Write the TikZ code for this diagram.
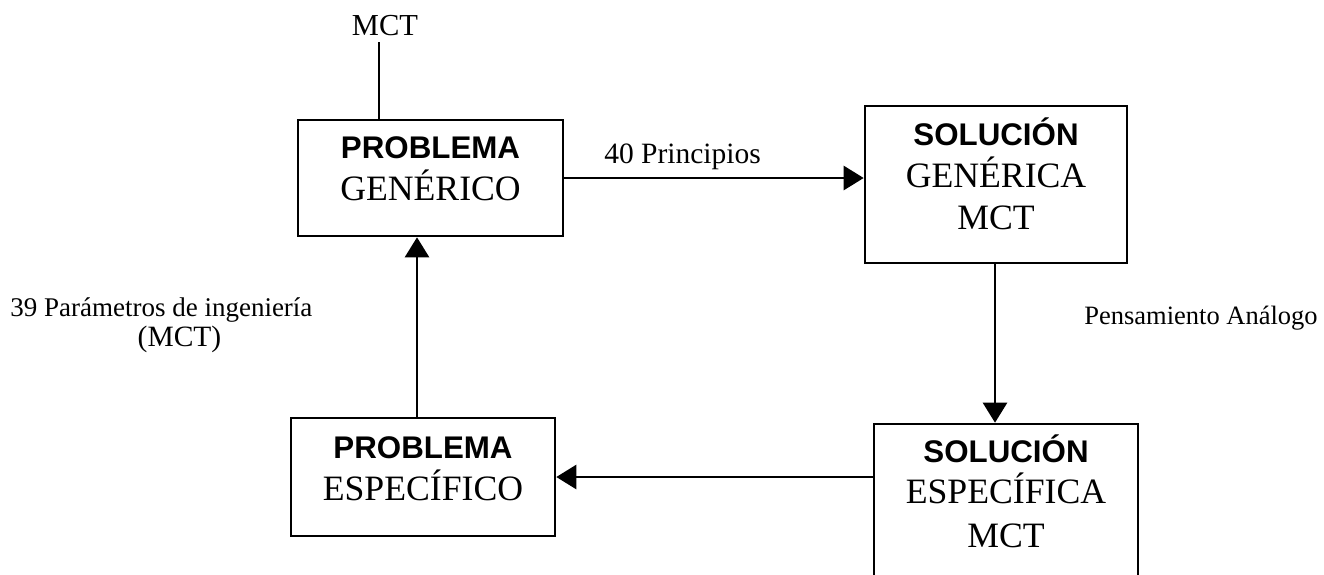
\documentclass[tikz,border=0pt]{standalone}
\usepackage{fontspec}
\setmainfont{Liberation Serif}
\setsansfont{Liberation Sans}
\usetikzlibrary{arrows.meta}
\begin{document}
\begin{tikzpicture}[x=1pt,y=-1pt,
  line width=2.6pt,
  box/.style={draw, rectangle, inner sep=0pt},
  txt/.style={anchor=base, inner sep=0pt},
  big/.style={txt, font=\fontsize{35.7}{40}\selectfont},
  head/.style={txt, font=\sffamily\bfseries\fontsize{31.3}{36}\selectfont},
  lbl/.style={inner sep=0pt, font=\fontsize{#1}{32}\selectfont},
  lbl/.default=29.5,
  arr/.style={-{Triangle[length=20pt,width=24pt]}}]
\clip (0,0) rectangle (1324,574);
\fill[white] (0,0) rectangle (1324,574);

% boxes
\node[box, minimum width=265pt, minimum height=116pt] (pg) at (430.5,178) {};
\node[box, minimum width=262pt, minimum height=157pt] (sg) at (996,184.5) {};
\node[box, minimum width=264pt, minimum height=118pt] (pe) at (423,477) {};
\node[box, minimum width=264pt, minimum height=200pt] (se) at (1006,524) {};

% box texts
\node[head] (pg1) at (430.5,158) {PROBLEMA};
\node[big]  (pg2) at (430.5,200) {GENÉRICO};
\node[head] (sg1) at (996,145) {SOLUCIÓN};
\node[big]  (sg2) at (996,187) {GENÉRICA};
\node[big]  (sg3) at (996,229) {MCT};
\node[head] (pe1) at (423,458) {PROBLEMA};
\node[big]  (pe2) at (423,500) {ESPECÍFICO};
\node[head] (se1) at (1006,462) {SOLUCIÓN};
\node[big]  (se2) at (1006,503) {ESPECÍFICA};
\node[big]  (se3) at (1006,547) {MCT};

% labels
\node[lbl=30.5, anchor=base] (mct) at (385,35) {MCT};
\node[lbl, anchor=base west] (prin) at (603,163) {40 Principios};
\node[lbl=27, anchor=base west] (par1) at (9,316) {39 Parámetros de ingeniería};
\node[lbl, anchor=base] (par2) at (179.5,346) {(MCT)};
\node[lbl=26.5, anchor=base west] (pens) at (1083,324) {Pensamiento Análogo};

% connectors
\coordinate (mctfoot) at ([yshift=-7pt]mct.base);
\draw ([xshift=-51.5pt]pg.north) -- ([xshift=-51.5pt]pg.north |- mctfoot);
\draw[arr] (pg.east) -- (pg.east -| sg.west);
\draw[arr] ([xshift=-1pt]sg.south) -- ([xshift=-1pt]sg.south |- se.north);
\draw[arr] (se.west |- pe.east) -- (pe.east);
\draw[arr] ([xshift=-6pt]pe.north) -- ([xshift=-6pt]pe.north |- pg.south);
\end{tikzpicture}
\end{document}
